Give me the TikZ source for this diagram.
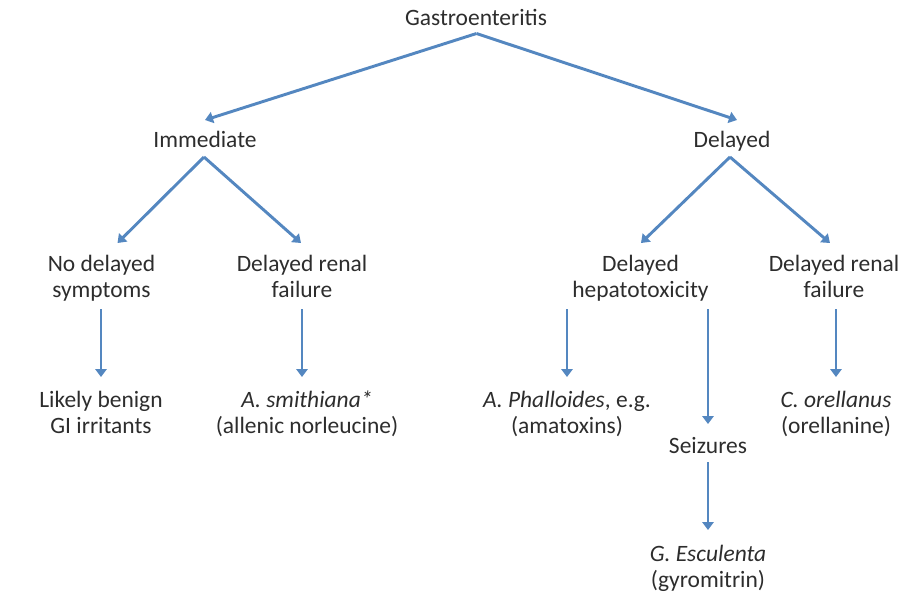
\documentclass[tikz,border=0pt]{standalone}
\usepackage{fontspec}
\setmainfont{Carlito}
\usetikzlibrary{arrows.meta,calc}
\definecolor{arrblue}{RGB}{84,135,192}
\definecolor{txt}{RGB}{45,45,45}
\begin{document}
\begin{tikzpicture}[x=0.75pt,y=-0.75pt,
  lbl/.style={anchor=base,inner sep=0pt,align=center,text=txt,
    font=\fontsize{17.6pt}{19.5pt}\selectfont},
  arr/.style={draw=arrblue,line width=2.2pt,
    -{Triangle[width=8.5pt,length=6pt]},arrblue}]
\useasboundingbox (0,0) rectangle (904,594);
% nodes (placed by last-line baseline)
\node[lbl] (gas) at (476,25) {Gastroenteritis};
\node[lbl] (imm) at (205,147) {Immediate};
\node[lbl] (del) at (732,147) {Delayed};
\node[lbl] (nds) at (101.5,297.3) {No delayed\\symptoms};
\node[lbl] (drl) at (302,297.3) {Delayed renal\\failure};
\node[lbl] (hep) at (640.5,297.3) {Delayed\\hepatotoxicity};
\node[lbl] (drr) at (834,297.3) {Delayed renal\\failure};
\node[lbl] (lb) at (101,433) {Likely benign\\GI irritants};
\node[lbl] (sm) at (307,433) {\textit{A. smithiana*}\\(allenic norleucine)};
\node[lbl] (pha) at (567,433) {\textit{A. Phalloides}, e.g.\\(amatoxins)};
\node[lbl] (sz) at (708,453) {Seizures};
\node[lbl] (orl) at (836,433) {\textit{C. orellanus}\\(orellanine)};
\node[lbl] (ge) at (708,587) {\textit{G. Esculenta}\\(gyromitrin)};
% connectors
\draw[arr] ($(gas.base)+(0.5,8.5)$) -- ($(imm.base)+(0,-27)$);
\draw[arr] ($(gas.base)+(0.5,8.5)$) -- ($(del.base)+(5,-27)$);
\draw[arr] ($(imm.base)+(-1,10)$) -- ($(nds.base)+(16,-54.3)$);
\draw[arr] ($(imm.base)+(-1,10)$) -- ($(drl.base)+(-1,-54.3)$);
\draw[arr] ($(del.base)+(-2,10)$) -- ($(hep.base)+(0.5,-54.3)$);
\draw[arr] ($(del.base)+(-2,10)$) -- ($(drr.base)+(-4,-54.3)$);
\draw[arr] ($(lb.base |- nds.base)+(0,11.7)$) -- ($(lb.base)+(0,-56)$);
\draw[arr] ($(drl.base)+(0,11.7)$) -- ($(drl.base |- sm.base)+(0,-56)$);
\draw[arr] ($(pha.base |- hep.base)+(0,11.7)$) -- ($(pha.base)+(0,-56)$);
\draw[arr] ($(sz.base |- hep.base)+(0,11.7)$) -- ($(sz.base)+(0,-29)$);
\draw[arr] ($(orl.base |- drr.base)+(0,11.7)$) -- ($(orl.base)+(0,-56)$);
\draw[arr] ($(sz.base)+(0,9)$) -- ($(ge.base)+(0,-57)$);
\end{tikzpicture}
\end{document}
